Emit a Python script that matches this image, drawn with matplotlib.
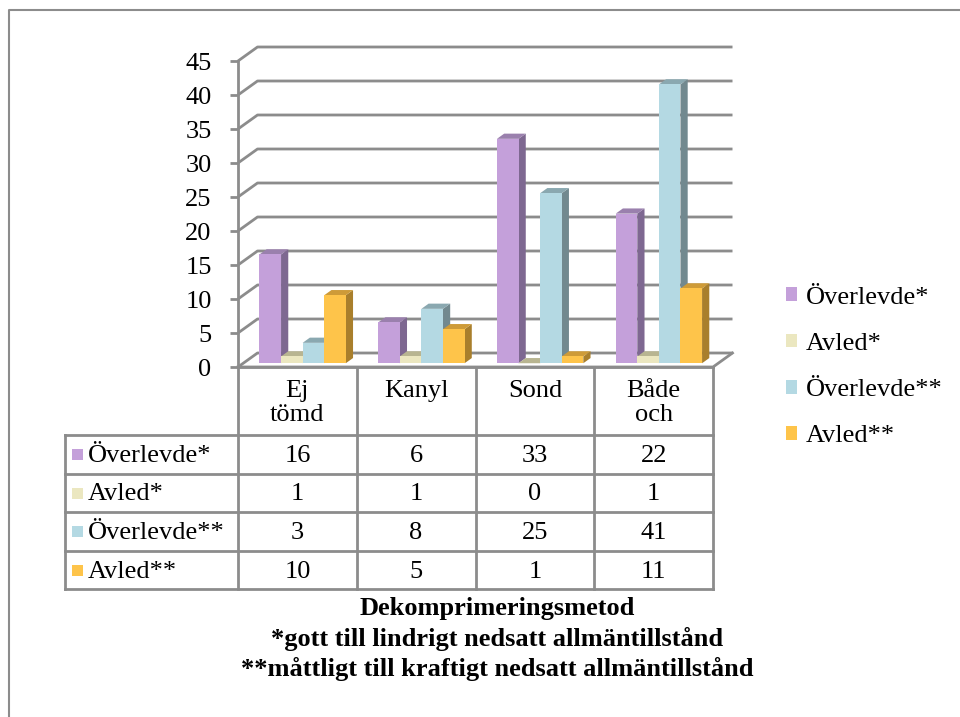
import matplotlib
matplotlib.use("Agg")
import matplotlib.pyplot as plt
from matplotlib.patches import Polygon, Patch

plt.rcParams['font.family'] = ['Liberation Serif', 'DejaVu Serif']

# ---- data -------------------------------------------------------------
categories = ["Ej\ntömd", "Kanyl", "Sond", "Både\noch"]
series_names = ["Överlevde*", "Avled*", "Överlevde**", "Avled**"]
overlevde_1 = [16, 6, 33, 22]
avled_1 = [1, 1, 0, 1]
overlevde_2 = [3, 8, 25, 41]
avled_2 = [10, 5, 1, 11]
series_values = [overlevde_1, avled_1, overlevde_2, avled_2]
y_ticks = list(range(0, 50, 5))
title_lines = ["Dekomprimeringsmetod",
               "*gott till lindrigt nedsatt allmäntillstånd",
               "**måttligt till kraftigt nedsatt allmäntillstånd"]

# face colours per series: front, side, top
front_col = ["#C4A0DA", "#EBE7C0", "#B4D9E3", "#FEC44A"]
side_col = ["#7E6891", "#B3B08F", "#72898F", "#A97F2C"]
top_col = ["#9A80AD", "#B8B591", "#8AA8B0", "#CE9B38"]
grid_col = "#8C8C8C"
FS = 19

W, H = 960, 717
fig = plt.figure(figsize=(W / 100, H / 100), dpi=100)

# overlay in pixel units for frame, data table and caption
ov = fig.add_axes([0, 0, 1, 1], zorder=0)
ov.set_xlim(0, W)
ov.set_ylim(H, 0)
ov.axis("off")

# chart frame (continues past right and bottom edges)
ov.plot([9, 9, W + 5], [H + 5, 10, 10], color=grid_col, lw=1.5)

# ---- 3D-style plot area ----------------------------------------------
left_px, right_px, top_px, floor_px = 238, 713, 61, 367
ax = fig.add_axes([left_px / W, (H - floor_px) / H,
                   (right_px - left_px) / W, (floor_px - top_px) / H], zorder=1)
ax.patch.set_visible(False)
ncat = len(categories)
ymax = 45
ax.set_xlim(0, ncat)
ax.set_ylim(0, ymax)

px_per_x = (right_px - left_px) / ncat
px_per_y = (floor_px - top_px) / ymax
dx = 19.5 / px_per_x      # depth offset in x data units
dy = 14.0 / px_per_y      # depth offset in y data units

# back wall gridlines with side-wall diagonals
for v in y_ticks:
    ax.plot([0, dx, ncat + dx], [v, v + dy, v + dy],
            color=grid_col, lw=2, clip_on=False, zorder=1,
            solid_capstyle="butt")
# floor front edge and right diagonal
ax.plot([0, ncat, ncat + dx], [0, 0, dy], color=grid_col, lw=2,
        clip_on=False, zorder=1)

# bars
nser = len(series_values)
bw = 1 / (nser + 1.5)
gap = 0.75 * bw
f0 = 0.27      # depth position of bar front
t = 0.37       # bar depth as fraction of floor depth
for i in range(ncat):
    for j in range(nser):
        v = series_values[j][i]
        x0 = i + gap + j * bw + f0 * dx
        x1 = x0 + bw
        yb = f0 * dy
        yt = v + f0 * dy
        ox, oy = t * dx, t * dy
        z = 2 + i * 0.01 + j * 0.001
        ax.add_patch(Polygon([(x1, yb), (x1 + ox, yb + oy), (x1 + ox, yt + oy), (x1, yt)],
                             closed=True, facecolor=side_col[j], edgecolor="none",
                             clip_on=False, zorder=z))
        ax.add_patch(Polygon([(x0, yt), (x1, yt), (x1 + ox, yt + oy), (x0 + ox, yt + oy)],
                             closed=True, facecolor=top_col[j], edgecolor="none",
                             clip_on=False, zorder=z))
        ax.add_patch(Polygon([(x0, yb), (x1, yb), (x1, yt), (x0, yt)],
                             closed=True, facecolor=front_col[j], edgecolor="none",
                             clip_on=False, zorder=z))

# value axis
for s in ["top", "right", "bottom"]:
    ax.spines[s].set_visible(False)
ax.spines["left"].set_color(grid_col)
ax.spines["left"].set_linewidth(2)
ax.set_xticks([])
ax.set_yticks(y_ticks)
ax.tick_params(axis="y", length=6, width=2, color=grid_col, pad=13,
               labelsize=FS, labelcolor="black")

# legend
handles = [Patch(facecolor=c, edgecolor="none") for c in front_col]
fig.legend(handles, series_names, loc="center left",
           bbox_to_anchor=(786 / W, (H - 367) / H), frameon=False,
           fontsize=FS, handlelength=0.42, handleheight=0.42,
           handletextpad=0.33, labelspacing=0.92, borderpad=0,
           borderaxespad=0)

# ---- data table -------------------------------------------------------
tbl_left = 65
col_x = [left_px + k * px_per_x for k in range(ncat + 1)]
row_y = [435, 474, 512, 551, 589]
lw_t = 2
# category header cells
ov.plot([col_x[0], col_x[-1]], [floor_px, floor_px], color=grid_col, lw=lw_t)
for xk in col_x:
    ov.plot([xk, xk], [floor_px, row_y[-1]], color=grid_col, lw=lw_t)
for yk in row_y:
    ov.plot([tbl_left, col_x[-1]], [yk, yk], color=grid_col, lw=lw_t)
ov.plot([tbl_left, tbl_left], [row_y[0], row_y[-1]], color=grid_col, lw=lw_t)

for i, cat in enumerate(categories):
    cx = (col_x[i] + col_x[i + 1]) / 2
    ov.text(cx, 380, cat, ha="center", va="top", fontsize=FS,
            linespacing=1.1)

for j, name in enumerate(series_names):
    cy = (row_y[j] + row_y[j + 1]) / 2 + 1.5
    ov.add_patch(plt.Rectangle((72, cy - 7), 11, 11, facecolor=front_col[j],
                               edgecolor="none"))
    ov.text(88, cy, name, ha="left", va="center", fontsize=FS)
    for i in range(ncat):
        cx = (col_x[i] + col_x[i + 1]) / 2
        ov.text(cx, cy, str(series_values[j][i]), ha="center", va="center",
                fontsize=FS)

# caption
for k, line in enumerate(title_lines):
    ov.text(497, 608 + k * 30.5, line, ha="center", va="center",
            fontsize=FS, fontweight="bold")

fig.savefig("out.png", dpi=100)
